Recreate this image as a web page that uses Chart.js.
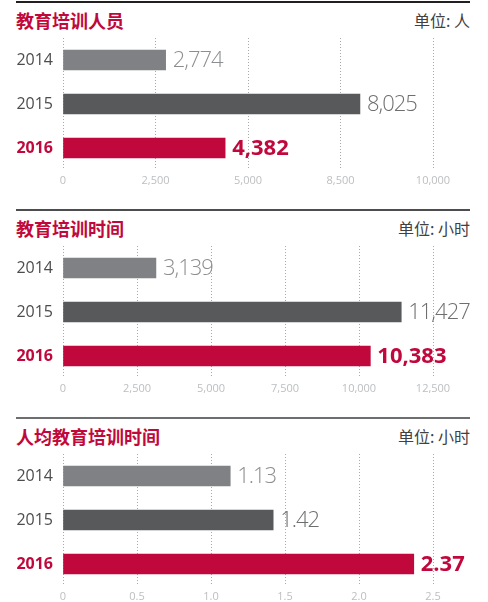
<!DOCTYPE html>
<html>
<head>
<meta charset="utf-8">
<script src="https://cdn.jsdelivr.net/npm/chart.js@4"></script>
<style>
    body { margin: 0; background: #fff; width: 488px; height: 602px; overflow: hidden; }
    .panel { position: absolute; left: 0; width: 488px; height: 208px; }
    .panel canvas { position: absolute; left: 0; top: 0; }
    .rule { position: absolute; left: 16px; width: 454px; top: 1px; height: 2px; }
    .title { position: absolute; left: 16px; top: 7px; font: bold 18px "Noto Sans CJK SC", sans-serif; color: #c0083c; }
    .unit { position: absolute; right: 18px; top: 8px; font: 16px "Noto Sans CJK SC", sans-serif; color: #414042; }
</style>
</head>
<body>
<div class="panel" style="top:0">
    <div class="rule" style="background:#231f20"></div>
    <div class="title">教育培训人员</div>
    <div class="unit">单位: 人</div>
    <canvas id="peopleChart" width="488" height="208"></canvas>
</div>
<div class="panel" style="top:208px">
    <div class="rule" style="background:#4d4d4f"></div>
    <div class="title">教育培训时间</div>
    <div class="unit">单位: 小时</div>
    <canvas id="hoursChart" width="488" height="208"></canvas>
</div>
<div class="panel" style="top:416px">
    <div class="rule" style="background:#6d6e70"></div>
    <div class="title">人均教育培训时间</div>
    <div class="unit">单位: 小时</div>
    <canvas id="perCapitaChart" width="488" height="208"></canvas>
</div>
<script>
const years = ['2014', '2015', '2016'];

const peopleValues = [2774, 8025, 4382];
const peopleTicks = ['0', '2,500', '5,000', '8,500', '10,000'];

const hoursValues = [3139, 11427, 10383];
const hoursTicks = ['0', '2,500', '5,000', '7,500', '10,000', '12,500'];

const perCapitaValues = [1.13, 1.42, 2.37];
const perCapitaTicks = ['0', '0.5', '1.0', '1.5', '2.0', '2.5'];

const barColors = ['#808184', '#58595b', '#c0083c'];
const valueColors = ['#8d8e90', '#6d6e70', '#c0083c'];
const yearColors = ['#4d4d4f', '#4d4d4f', '#c0083c'];

// writes the value just past the end of each bar
const valueLabels = {
    id: 'valueLabels',
    afterDatasetsDraw(chart, args, opts) {
        const ctx = chart.ctx;
        const meta = chart.getDatasetMeta(0);
        const data = chart.data.datasets[0].data;
        ctx.save();
        ctx.textBaseline = 'middle';
        ctx.textAlign = 'left';
        meta.data.forEach((bar, i) => {
            const last = i === data.length - 1;
            ctx.font = last ? 'bold 22px "Open Sans", sans-serif' : '300 22px "Open Sans", sans-serif';
            ctx.letterSpacing = last ? '0px' : '-1px';
            ctx.fillStyle = valueColors[i];
            ctx.fillText(opts.format(data[i]), bar.x + 7, bar.y + 1);
        });
        ctx.restore();
    }
};

function drawChart(id, values, max, step, tickLabels, format) {
    const ctx = document.getElementById(id).getContext('2d');
    return new Chart(ctx, {
        type: 'bar',
        data: {
            labels: years,
            datasets: [{
                data: values,
                backgroundColor: barColors,
                barThickness: 20
            }]
        },
        options: {
            indexAxis: 'y',
            responsive: false,
            animation: false,
            layout: { padding: { top: 38, right: 55, left: 0, bottom: 0 } },
            plugins: {
                legend: { display: false },
                tooltip: { enabled: false },
                valueLabels: { format: format }
            },
            scales: {
                x: {
                    min: 0,
                    max: max,
                    // border.dash is what dots the grid lines in v4
                    border: { display: false, dash: [1, 2] },
                    grid: {
                        color: '#a7a9ac',
                        lineWidth: 1,
                        drawTicks: false
                    },
                    ticks: {
                        stepSize: step,
                        padding: 4,
                        color: '#bcbec0',
                        font: { family: 'Open Sans', size: 11 },
                        callback: (value, index) => tickLabels[index]
                    },
                    afterFit: (scale) => { scale.height = 38; }
                },
                y: {
                    border: { display: false },
                    grid: { display: false, drawTicks: false },
                    ticks: {
                        padding: 10,
                        color: (c) => yearColors[c.index],
                        font: (c) => ({
                            family: 'Open Sans',
                            size: 16,
                            weight: c.index === 2 ? 'bold' : 'normal'
                        })
                    },
                    afterFit: (scale) => { scale.width = 63; }
                }
            }
        },
        plugins: [valueLabels]
    });
}

const intFormat = (v) => v.toLocaleString('en-US');
const decFormat = (v) => v.toFixed(2);

drawChart('peopleChart', peopleValues, 10000, 2500, peopleTicks, intFormat);
drawChart('hoursChart', hoursValues, 12500, 2500, hoursTicks, intFormat);
drawChart('perCapitaChart', perCapitaValues, 2.5, 0.5, perCapitaTicks, decFormat);
</script>
</body>
</html>
